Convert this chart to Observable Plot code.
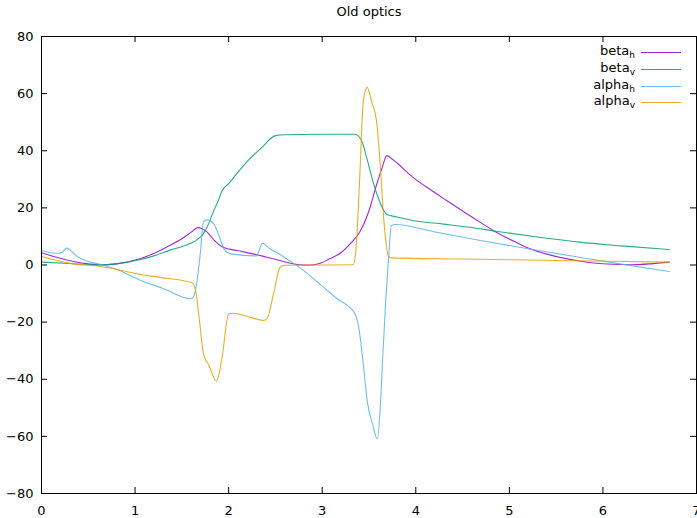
<!DOCTYPE html>
<html><head><meta charset="utf-8">
<script src="https://cdn.jsdelivr.net/npm/d3@7"></script>
<script src="https://cdn.jsdelivr.net/npm/@observablehq/plot@0.6"></script>
<style>
body{margin:0;background:#fff;font-family:"DejaVu Sans",sans-serif;}
#wrap{position:relative;width:697px;height:518px;overflow:hidden;}
#title{position:absolute;left:0;width:738px;top:4px;text-align:center;font-size:13px;color:#000;}
.lg{position:absolute;right:62px;font-size:13px;color:#000;text-align:right;line-height:16px;}
.lg sub{font-size:9px;vertical-align:-3px;line-height:0;}
.ls{position:absolute;left:641px;width:40px;height:0;border-top:1.3px solid;opacity:0.85;}
</style></head><body>
<div id="wrap"><div id="title">Old optics</div></div>
<script>
const xTicks = [0, 1, 2, 3, 4, 5, 6, 7];
const yTicks = [-80, -60, -40, -20, 0, 20, 40, 60, 80];
const seriesNames = ["beta_h", "beta_v", "alpha_h", "alpha_v"];
const seriesLabels = [["beta", "h"], ["beta", "v"], ["alpha", "h"], ["alpha", "v"]];
const seriesColors = ["#9400d3", "#009e73", "#56b4e9", "#e69f00"];

const betaH_x = [0, 0.17, 0.34, 0.5, 0.63, 0.8, 1.06, 1.2, 1.38, 1.5, 1.6, 1.67, 1.77, 1.85, 1.94, 2.1, 2.26, 2.4, 2.55, 2.65, 2.76, 2.88, 2.98, 3.08, 3.2, 3.3, 3.4, 3.5, 3.58, 3.64, 3.69, 3.75, 3.97, 4.15, 4.33, 4.6, 4.86, 5.05, 5.22, 5.4, 5.57, 5.75, 5.93, 6.1, 6.29, 6.5, 6.71];
const betaH_y = [4.3, 2.6, 1.2, 0.4, 0.0, 0.4, 2.3, 4.0, 7.0, 9.2, 11.5, 13.1, 11.5, 8.5, 6.2, 5.0, 3.9, 2.8, 1.6, 0.7, 0.1, 0.0, 0.6, 2.2, 4.3, 7.5, 11.5, 19, 28, 34, 38.3, 37, 30.7, 26.5, 22.6, 16.8, 11.5, 8.3, 5.7, 3.8, 2.5, 1.4, 0.6, 0.25, 0.1, 0.4, 1.0];

const betaV_x = [0, 0.3, 0.6, 0.8, 1.06, 1.2, 1.38, 1.5, 1.66, 1.73, 1.78, 1.84, 1.89, 1.93, 2.0, 2.1, 2.23, 2.35, 2.5, 2.6, 3.0, 3.35, 3.42, 3.48, 3.55, 3.64, 3.69, 3.8, 3.97, 4.3, 4.58, 4.86, 5.3, 5.75, 6.2, 6.71];
const betaV_y = [1.0, 0.5, 0.1, 0.4, 1.9, 3.2, 5.3, 6.5, 8.8, 11, 14, 19, 22.6, 26, 28.5, 32.5, 37.3, 41, 45.3, 45.6, 45.8, 45.8, 43.6, 37, 28.4, 20.2, 17.7, 16.8, 15.6, 14.3, 13.2, 11.8, 9.8, 8.0, 6.7, 5.4];

const alphaH_x = [0, 0.17, 0.22, 0.27, 0.32, 0.38, 0.5, 0.63, 0.8, 1.06, 1.3, 1.59, 1.62, 1.65, 1.7, 1.73, 1.77, 1.84, 1.9, 1.96, 2.02, 2.3, 2.33, 2.36, 2.44, 2.55, 2.62, 2.8, 3.0, 3.16, 3.35, 3.39, 3.44, 3.48, 3.54, 3.59, 3.62, 3.65, 3.68, 3.71, 3.74, 3.78, 4.2, 4.69, 5.2, 5.75, 6.2, 6.71];
const alphaH_y = [5.1, 4.1, 4.5, 5.9, 4.8, 3.0, 1.2, 0.2, -1.5, -5.4, -8.2, -11.8, -11.3, -8, 5, 15, 15.8, 14.4, 10, 5.1, 3.9, 3.2, 5.5, 7.6, 5.7, 3.7, 2.2, -1.9, -7.4, -11.8, -17.1, -21.8, -35, -47.4, -56, -60.9, -50, -30, -12, 2.7, 13.8, 14.2, 11.6, 8.6, 5.7, 2.7, 0.3, -2.3];

const alphaV_x = [0, 0.34, 0.63, 1.06, 1.3, 1.61, 1.65, 1.69, 1.73, 1.79, 1.87, 1.93, 2.0, 2.05, 2.2, 2.37, 2.41, 2.48, 2.55, 2.6, 3.0, 3.33, 3.36, 3.4, 3.44, 3.48, 3.53, 3.58, 3.62, 3.66, 3.71, 3.74, 4.5, 5.5, 6.71];
const alphaV_y = [3.0, 0.4, -0.5, -3.3, -4.5, -6.2, -9.5, -20, -31, -35.2, -40.7, -32.3, -17.1, -16.9, -18, -19.4, -18.8, -10, -0.8, -0.1, 0.0, 0.1, 5, 30, 57.6, 62.2, 57, 50.6, 35, 15, 3, 2.5, 2.1, 1.6, 1.0];

const seriesX = [betaH_x, betaV_x, alphaH_x, alphaV_x];
const seriesY = [betaH_y, betaV_y, alphaH_y, alphaV_y];

const rows = seriesNames.flatMap((name, k) => seriesX[k].map((x, i) => ({name, x, y: seriesY[k][i]})));

const W = 697, H = 518, mT = 36, mB = 25, mL = 41, mR = 1;
const innerH = H - mT - mB, innerW = W - mL - mR, tk = 6;

const chart = Plot.plot({
  width: W, height: H,
  marginTop: mT, marginBottom: mB, marginLeft: mL, marginRight: mR,
  style: {fontFamily: "DejaVu Sans, sans-serif", fontSize: "13px", background: "#fff", overflow: "visible"},
  x: {domain: [0, 7]},
  y: {domain: [-80, 80]},
  color: {domain: seriesNames, range: seriesColors},
  marks: [
    Plot.axisX(xTicks, {tickSize: 0, tickPadding: 12, label: null, fill: "#000"}),
    Plot.axisY(yTicks, {tickSize: 0, tickPadding: 8, label: null, fill: "#000"}),
    Plot.ruleX(xTicks, {x: d => d, insetTop: innerH - tk, stroke: "#000"}),
    Plot.ruleX(xTicks, {x: d => d, insetBottom: innerH - tk, stroke: "#000"}),
    Plot.ruleY(yTicks, {y: d => d, insetRight: innerW - tk, stroke: "#000"}),
    Plot.ruleY(yTicks, {y: d => d, insetLeft: innerW - tk, stroke: "#000"}),
    Plot.line(rows, {x: "x", y: "y", z: "name", stroke: "name", curve: "monotone-x", strokeWidth: 1.1, strokeOpacity: 0.85}),
    Plot.frame({stroke: "#000", strokeWidth: 1})
  ]
});
const wrap = document.getElementById("wrap");
wrap.insertBefore(chart, wrap.firstChild);

seriesNames.forEach((n, i) => {
  const y = 52 + i * 16.8;
  const t = document.createElement("div");
  t.className = "lg";
  t.style.top = (y - 9) + "px";
  t.innerHTML = seriesLabels[i][0] + "<sub>" + seriesLabels[i][1] + "</sub>";
  wrap.appendChild(t);
  const l = document.createElement("div");
  l.className = "ls";
  l.style.top = y + "px";
  l.style.borderTopColor = seriesColors[i];
  wrap.appendChild(l);
});
</script>
</body></html>
